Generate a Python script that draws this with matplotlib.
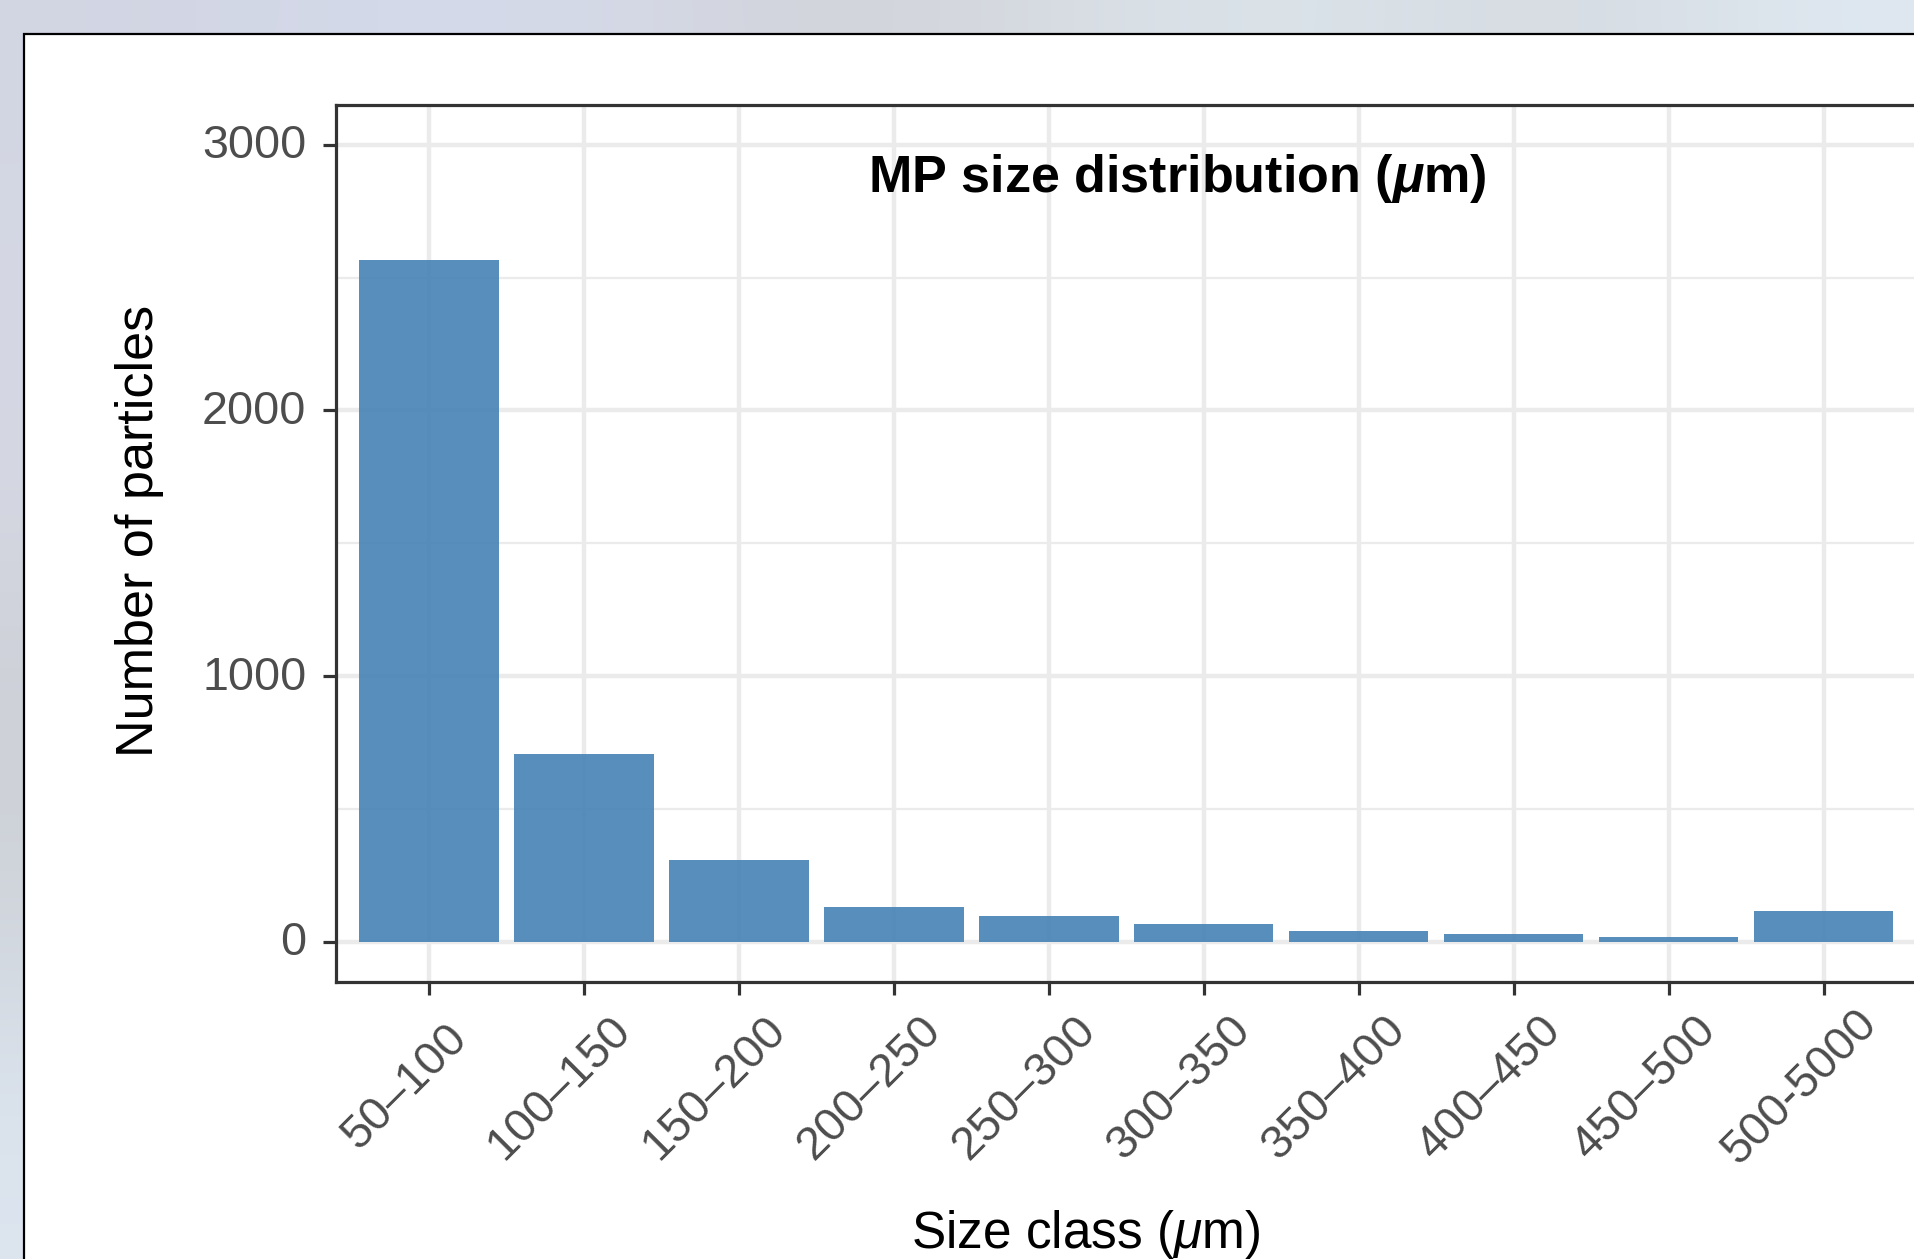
import matplotlib
matplotlib.use("Agg")
import matplotlib.pyplot as plt
import numpy as np
from matplotlib.colors import to_rgb
from matplotlib.patches import Rectangle
from matplotlib.transforms import ScaledTranslation

plt.rcParams['font.family'] = ['Liberation Sans', 'DejaVu Sans']
plt.rcParams['mathtext.fontset'] = 'custom'
plt.rcParams['mathtext.rm'] = 'Liberation Sans'
plt.rcParams['mathtext.it'] = 'Liberation Sans:italic'
plt.rcParams['mathtext.bf'] = 'Liberation Sans:bold'
plt.rcParams['mathtext.bfit'] = 'Liberation Sans:bold:italic'

# particle counts per size class
size_classes = ['50–100', '100–150', '150–200', '200–250', '250–300',
                '300–350', '350–400', '400–450', '450–500', '500-5000']
counts = [2565, 706, 307, 131, 97, 67, 40, 29, 18, 116]

y_ticks = [0, 1000, 2000, 3000]
y_minor = [500, 1500, 2500]

W, H = 1914, 1259
fig = plt.figure(figsize=(W / 100, H / 100), dpi=100)

# soft backdrop behind the white panel
bg = fig.add_axes([0, 0, 1, 1])
top_row = ['#D2D5E2', '#D3D9EA', '#D6DBEA', '#D0D1D6', '#D8DEE4', '#DCE6EC', '#D4D8DE', '#DFE9F1']
left_col = ['#D2D5E2', '#D8DBE6', '#C8CACF', '#DDE6F0']
grid = np.zeros((len(left_col), len(top_row), 3))
for i, c in enumerate(left_col):
    grid[i, :] = to_rgb(c)
for j, c in enumerate(top_row):
    grid[0, j] = to_rgb(c)
bg.imshow(grid, aspect='auto', interpolation='bicubic', extent=[0, 1, 0, 1])
bg.set_axis_off()

panel = Rectangle((24 / W, -0.05), 1.1, 1 - 34 / H + 0.05, transform=fig.transFigure,
                  facecolor='white', edgecolor='black', linewidth=1.6, zorder=1)
fig.patches.append(panel)

left, right = 336 / W, 1916.5 / W
bottom, top = 1 - 981.5 / H, 1 - 105 / H
ax = fig.add_axes([left, bottom, right - left, top - bottom], zorder=2)
ax.set_facecolor('white')

pos = np.arange(1, len(counts) + 1)
ax.bar(pos, counts, width=0.9, color='steelblue', alpha=0.9, linewidth=0, zorder=2)

ax.set_xlim(0.4, 10.6)
ax.set_ylim(-150, 3150)
ax.set_axisbelow(True)

ax.set_yticks(y_ticks)
ax.set_yticks(y_minor, minor=True)
ax.grid(which='major', color='#EBEBEB', linewidth=3.2)
ax.grid(which='minor', axis='y', color='#EBEBEB', linewidth=1.6)

for s in ax.spines.values():
    s.set_color('#333333')
    s.set_linewidth(2.3)

ax.tick_params(axis='both', which='major', color='#333333', width=2.3, length=9.4,
               labelcolor='#4D4D4D', labelsize=33.7)
ax.tick_params(axis='y', which='minor', length=0)
ax.tick_params(axis='y', pad=12)
ax.tick_params(axis='x', pad=67)

# nudge the count labels so the digits sit centred on their ticks
lift = ScaledTranslation(0, 3.5 / 100, fig.dpi_scale_trans)
for lab in ax.get_yticklabels():
    lab.set_transform(lab.get_transform() + lift)

ax.set_xticks(pos)
ax.set_xticklabels(size_classes, rotation=45, rotation_mode='anchor', ha='center', va='center')
shift = ScaledTranslation(-24 / 100, 0, fig.dpi_scale_trans)
for lab in ax.get_xticklabels():
    lab.set_transform(lab.get_transform() + shift)

ax.text((1177 - 336) / (1916.5 - 336), (981.5 - 192) / (981.5 - 105),
        r'MP size distribution ($\mathbfit{\mu}$m)', transform=ax.transAxes,
        ha='center', va='baseline', fontsize=37.5, fontweight='bold', color='black')

fig.text(1086 / W, 1 - 1248 / H, r'Size class ($\mu$m)', ha='center', va='baseline',
         fontsize=37, color='black', zorder=3)
fig.text(153 / W, 1 - 531 / H, 'Number of particles', rotation=90, rotation_mode='anchor',
         ha='center', va='baseline', fontsize=37.5, color='black', zorder=3)

fig.savefig('out.png', dpi=100)
